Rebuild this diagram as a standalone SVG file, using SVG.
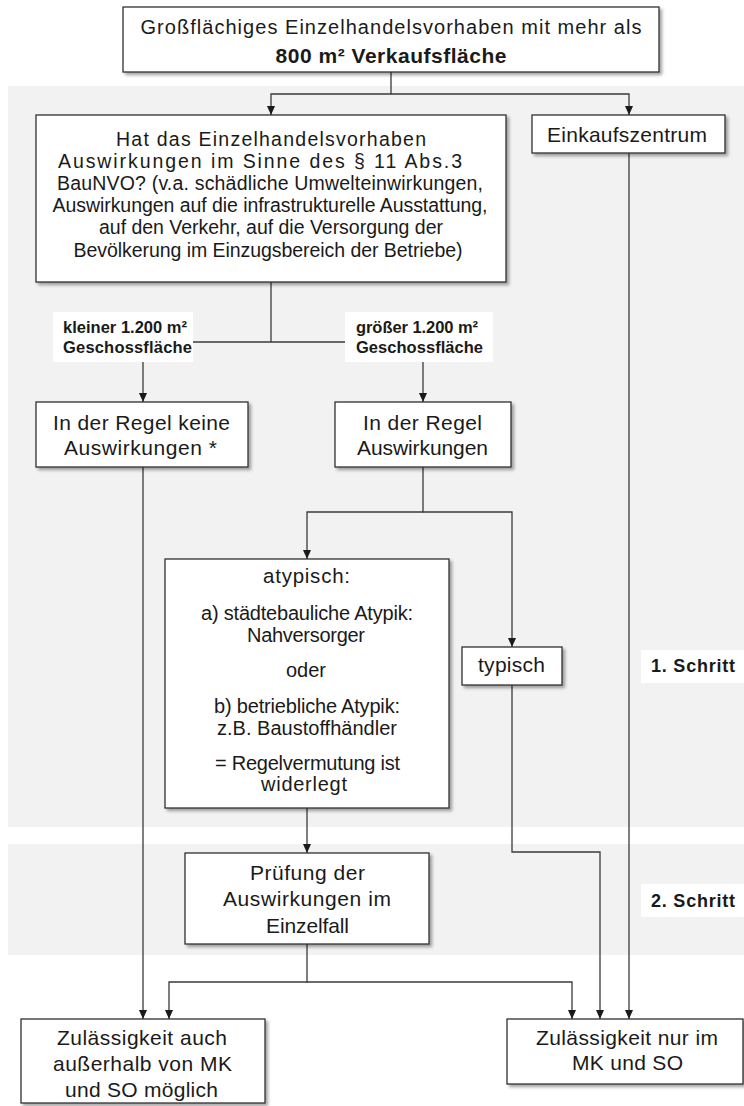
<svg xmlns="http://www.w3.org/2000/svg" width="744" height="1106" viewBox="0 0 744 1106">
<style>
.band{fill:#f2f2f2}
.box{fill:#fff;stroke:#303030;stroke-width:1.3;filter:url(#sh)}
.lbl{fill:#fff}
.t{font-family:"Liberation Sans",Arial,sans-serif;fill:#1a1a1a;text-anchor:middle}
.b{font-family:"Liberation Sans",Arial,sans-serif;fill:#1a1a1a;font-weight:bold}
.c{fill:none;stroke:#3a3a3a;stroke-width:1.3}
.a{marker-end:url(#ah)}
</style>
<defs>
<filter id="sh" x="-10%" y="-10%" width="125%" height="130%">
<feDropShadow dx="2.5" dy="2.5" stdDeviation="1.5" flood-color="#000" flood-opacity="0.35"/>
</filter>
<marker id="ah" markerUnits="userSpaceOnUse" markerWidth="9" markerHeight="8" refX="9" refY="4" orient="auto" viewBox="0 0 9 8">
<path d="M0,0 L9,4 L0,8 z" fill="#1a1a1a"/>
</marker>
</defs>
<rect width="744" height="1106" fill="#fff"/>
<rect class="band" x="8" y="86" width="736" height="741"/>
<rect class="band" x="8" y="844" width="736" height="111"/>

<g id="connectors">
<path class="c a" d="M391,72 V94 H271 V115"/>
<path class="c a" d="M391,94 H629 V115"/>
<path class="c" d="M271,282 V342"/>
<path class="c" d="M193,342 H345"/>
<path class="c a" d="M143,362 V402"/>
<path class="c a" d="M423,362 V402"/>
<path class="c a" d="M423,467 V512 H307 V559"/>
<path class="c a" d="M423,512 H512 V647"/>
<path class="c a" d="M307,808 V853"/>
<path class="c a" d="M143,467 V1019"/>
<path class="c a" d="M629,153 V1019"/>
<path class="c a" d="M512,685 V852 H600 V1019"/>
<path class="c a" d="M307,944 V982 H169 V1019"/>
<path class="c a" d="M307,982 H572 V1019"/>
</g>

<g id="n-top">
<rect class="box" x="123" y="7" width="536" height="65"/>
<text class="t" x="391" y="34" font-size="20" textLength="501" lengthAdjust="spacing">Großflächiges Einzelhandelsvorhaben  mit mehr  als</text>
<text class="t" x="391" y="63" font-size="21" font-weight="bold" textLength="231" lengthAdjust="spacing">800 m² Verkaufsfläche</text>
</g>

<g id="n-frage">
<rect class="box" x="36" y="115" width="470" height="167"/>
<text class="t" x="271" y="146" font-size="19.5" textLength="310" lengthAdjust="spacing">Hat das Einzelhandelsvorhaben</text>
<text class="t" x="260" y="168" font-size="19.5" textLength="404" lengthAdjust="spacing">Auswirkungen  im Sinne des § 11 Abs.3</text>
<text class="t" x="270" y="190" font-size="19.5" textLength="426" lengthAdjust="spacing">BauNVO?  (v.a. schädliche Umwelteinwirkungen,</text>
<text class="t" x="270" y="212" font-size="19.5" textLength="435" lengthAdjust="spacing">Auswirkungen auf die infrastrukturelle Ausstattung,</text>
<text class="t" x="271" y="234" font-size="19.5" textLength="344" lengthAdjust="spacing">auf den Verkehr, auf die Versorgung der</text>
<text class="t" x="268" y="257" font-size="19.5" textLength="389" lengthAdjust="spacing">Bevölkerung im Einzugsbereich der Betriebe)</text>
</g>

<g id="n-ekz">
<rect class="box" x="532" y="115" width="193" height="38"/>
<text class="t" x="627" y="142" font-size="21" textLength="160" lengthAdjust="spacing">Einkaufszentrum</text>
</g>

<g id="n-lbl-klein">
<rect class="lbl" x="53" y="312" width="140" height="50"/>
<text class="b" x="63" y="333" font-size="16.5" textLength="124" lengthAdjust="spacing">kleiner 1.200 m²</text>
<text class="b" x="63" y="353" font-size="16.5" textLength="129" lengthAdjust="spacing">Geschossfläche</text>
</g>

<g id="n-lbl-gross">
<rect class="lbl" x="345" y="312" width="148" height="50"/>
<text class="b" x="356" y="333" font-size="16.5" textLength="122" lengthAdjust="spacing">größer 1.200 m²</text>
<text class="b" x="356" y="353" font-size="16.5" textLength="127" lengthAdjust="spacing">Geschossfläche</text>
</g>

<g id="n-keine">
<rect class="box" x="36" y="402" width="212" height="65"/>
<text class="t" x="141.5" y="430" font-size="21" textLength="177" lengthAdjust="spacing">In der Regel keine</text>
<text class="t" x="140.5" y="455" font-size="21" textLength="153" lengthAdjust="spacing">Auswirkungen  *</text>
</g>

<g id="n-ausw">
<rect class="box" x="335" y="402" width="176" height="65"/>
<text class="t" x="422.5" y="430" font-size="21" textLength="119" lengthAdjust="spacing">In der Regel</text>
<text class="t" x="422.5" y="455" font-size="21" textLength="131" lengthAdjust="spacing">Auswirkungen</text>
</g>

<g id="n-atyp">
<rect class="box" x="165" y="559" width="284" height="249"/>
<text class="t" x="306.5" y="583" font-size="20.5" textLength="87" lengthAdjust="spacing">atypisch:</text>
<text class="t" x="307" y="620" font-size="20" textLength="212" lengthAdjust="spacing">a) städtebauliche Atypik:</text>
<text class="t" x="306" y="642" font-size="20" textLength="118" lengthAdjust="spacing">Nahversorger</text>
<text class="t" x="306" y="677" font-size="20">oder</text>
<text class="t" x="307" y="713" font-size="20" textLength="186" lengthAdjust="spacing">b) betriebliche Atypik:</text>
<text class="t" x="307" y="735" font-size="20" textLength="180" lengthAdjust="spacing">z.B. Baustoffhändler</text>
<text class="t" x="307.5" y="770" font-size="20" textLength="185" lengthAdjust="spacing">= Regelvermutung ist</text>
<text class="t" x="304" y="791" font-size="20" textLength="86" lengthAdjust="spacing">widerlegt</text>
</g>

<g id="n-typ">
<rect class="box" x="462" y="647" width="100" height="38"/>
<text class="t" x="511.5" y="672" font-size="21" textLength="67" lengthAdjust="spacing">typisch</text>
</g>

<g id="step1">
<rect class="lbl" x="641" y="650" width="103" height="33"/>
<text class="b" x="651" y="672" font-size="18" textLength="84" lengthAdjust="spacing">1. Schritt</text>
</g>

<g id="n-pruef">
<rect class="box" x="185" y="853" width="244" height="91"/>
<text class="t" x="307.5" y="880" font-size="21" textLength="115" lengthAdjust="spacing">Prüfung  der</text>
<text class="t" x="307" y="906" font-size="21" textLength="168" lengthAdjust="spacing">Auswirkungen  im</text>
<text class="t" x="307.5" y="933" font-size="21" textLength="83" lengthAdjust="spacing">Einzelfall</text>
</g>

<g id="step2">
<rect class="lbl" x="641" y="884" width="103" height="33"/>
<text class="b" x="651" y="907" font-size="18" textLength="84" lengthAdjust="spacing">2. Schritt</text>
</g>

<g id="n-zul-auch">
<rect class="box" x="21" y="1019" width="244" height="84"/>
<text class="t" x="142" y="1045" font-size="21" textLength="170" lengthAdjust="spacing">Zulässigkeit auch</text>
<text class="t" x="142.5" y="1071" font-size="21" textLength="179" lengthAdjust="spacing">außerhalb  von MK</text>
<text class="t" x="141.5" y="1097" font-size="21" textLength="153" lengthAdjust="spacing">und  SO möglich</text>
</g>

<g id="n-zul-nur">
<rect class="box" x="507" y="1019" width="236" height="65"/>
<text class="t" x="627" y="1045" font-size="21" textLength="182" lengthAdjust="spacing">Zulässigkeit nur im</text>
<text class="t" x="627.5" y="1070" font-size="21" textLength="111" lengthAdjust="spacing">MK und SO</text>
</g>
</svg>
